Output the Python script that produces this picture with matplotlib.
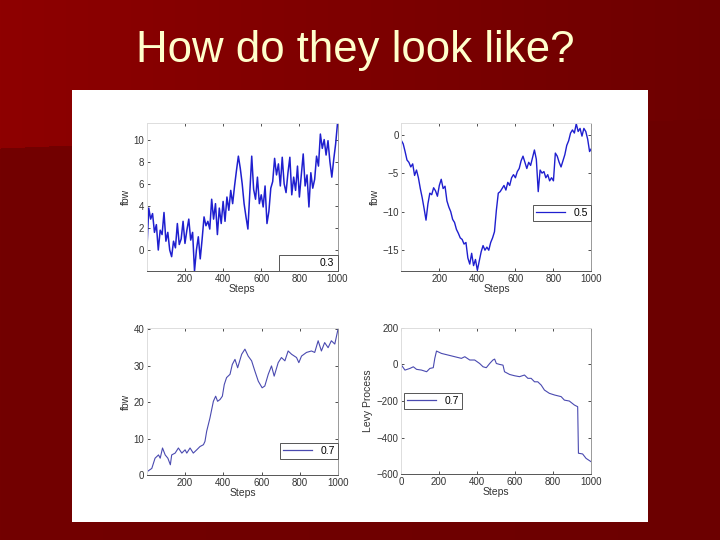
import matplotlib
matplotlib.use("Agg")
import matplotlib.pyplot as plt
import numpy as np
from matplotlib.lines import Line2D
from matplotlib.patches import Rectangle

plt.rcParams['font.family'] = ['Liberation Sans', 'DejaVu Sans']

# --- data (step, value) ---
steps_a = [1, 10, 20, 30, 40, 50, 60, 70, 80, 90, 100, 110, 120, 130, 140, 150, 160, 170, 180, 190,
           200, 210, 220, 230, 240, 250, 260, 270, 280, 290, 300, 310, 320, 330, 340, 350, 360, 370, 380, 390,
           400, 410, 420, 430, 440, 450, 460, 470, 480, 490, 500, 510, 520, 530, 540, 550, 560, 570, 580, 590,
           600, 610, 620, 630, 640, 650, 660, 670, 680, 690, 700, 710, 720, 730, 740, 750, 760, 770, 780, 790,
           800, 810, 820, 830, 840, 850, 860, 870, 880, 890, 900, 910, 920, 930, 940, 950, 960, 970, 980, 990, 1000]
fbw_a = [0.3, 3.8, 2.8, 3.3, 1.6, 2.3, 0.0, 1.8, 1.4, 3.4, 0.8, 1.6, 0.0, -0.6, 0.8, 0.2, 2.4, 0.5, 1.0, 2.6,
         0.6, 1.8, 2.8, 0.9, 1.6, -1.9, 0.0, 1.2, -0.8, 1.0, 3.0, 2.2, 2.6, 1.9, 4.6, 2.8, 4.2, 1.4, 3.8, 2.4,
         4.4, 2.6, 4.8, 3.6, 5.4, 4.2, 5.8, 7.2, 8.5, 7.4, 6.0, 4.2, 3.0, 1.9, 5.2, 8.5, 5.5, 4.6, 6.6, 4.2,
         5.0, 3.9, 5.8, 2.4, 3.5, 5.6, 6.2, 8.3, 6.8, 7.8, 5.8, 8.4, 6.0, 5.2, 7.0, 8.4, 5.0, 6.6, 5.4, 7.6,
         4.8, 6.8, 8.7, 5.8, 6.8, 3.9, 7.0, 5.6, 6.4, 8.5, 7.6, 10.5, 9.2, 10.0, 8.6, 9.9, 8.0, 6.6, 8.2, 9.6, 11.5]

steps_b = steps_a
fbw_b = [-0.8, -1.2, -2.2, -3.3, -3.6, -4.2, -3.8, -5.3, -4.6, -5.6, -7.0, -8.2, -9.6, -11.1, -9.0, -7.6, -7.8, -6.9, -7.3, -8.0,
         -6.6, -5.8, -7.0, -6.7, -8.6, -9.4, -10.0, -11.0, -11.4, -12.3, -12.8, -13.4, -13.6, -14.2, -14.0, -16.0, -16.8, -15.4, -17.0, -16.2,
         -17.6, -16.4, -15.2, -14.4, -15.0, -14.6, -15.0, -14.0, -13.4, -12.6, -9.8, -7.6, -7.4, -7.0, -6.6, -7.2, -6.2, -6.6, -5.6, -5.2,
         -5.6, -4.8, -4.4, -3.4, -2.8, -3.6, -4.4, -3.6, -4.0, -3.0, -2.0, -3.2, -7.4, -4.6, -5.0, -4.8, -5.6, -5.2, -6.0, -5.6,
         -6.0, -2.4, -2.8, -3.6, -4.2, -3.4, -2.6, -1.4, -0.8, 0.2, 0.6, 0.2, 1.4, 0.4, 0.8, -0.2, 0.8, 0.4, -0.6, -2.2, -1.8]

steps_c = [1, 26, 43, 61, 70, 82, 96, 110, 123, 130, 148, 165, 183, 200, 209, 226, 243, 261, 278, 296,
           304, 313, 330, 348, 360, 370, 383, 395, 405, 417, 435, 447, 461, 475, 496, 513, 530, 548, 565, 583,
           603, 617, 635, 652, 666, 687, 704, 722, 739, 757, 783, 795, 809, 835, 861, 878, 896, 913, 930, 948,
           965, 983, 1000]
fbw_c = [0.9, 1.8, 4.6, 5.5, 4.6, 7.4, 5.5, 4.6, 2.8, 5.5, 6.0, 7.4, 6.0, 6.9, 6.0, 7.4, 6.0, 6.9, 7.8, 8.3,
         9.2, 12.0, 15.6, 20.2, 21.6, 20.2, 20.7, 21.6, 24.8, 26.7, 27.6, 30.3, 31.7, 29.4, 33.1, 34.5, 32.6, 31.3, 28.5, 25.7,
         23.9, 24.4, 27.6, 29.9, 27.1, 30.8, 32.2, 31.3, 34.0, 33.1, 32.2, 30.8, 32.6, 33.6, 34.0, 33.6, 36.8, 34.0, 36.3, 34.9,
         36.8, 35.9, 40.0]

steps_d = [0, 21, 47, 65, 82, 108, 135, 152, 170, 178, 187, 213, 248, 283, 318, 336, 362, 388, 414, 432,
           449, 467, 484, 493, 502, 519, 537, 545, 572, 598, 624, 650, 668, 685, 703, 720, 738, 755, 781, 808,
           843, 860, 886, 913, 930, 934, 956, 974, 1000]
levy_d = [0, -31, -22, -13, -27, -31, -40, -22, -18, 33, 73, 60, 51, 42, 33, 42, 24, 24, 5, -13,
          -18, 5, 24, 29, 5, 0, -4, -40, -55, -62, -67, -58, -76, -76, -95, -95, -113, -140, -158, -167,
          -176, -195, -200, -222, -231, -485, -489, -513, -531]

labels = ["0.3", "0.5", "0.7", "0.7"]

fig = plt.figure(figsize=(7.2, 5.4), dpi=100)

# slide background (dark red gradient, darker lower-left wedge)
H, W = 540, 720
xx, yy = np.meshgrid(np.arange(W), np.arange(H))
t = xx / W
r = 0x8E * (1 - t) + 0x6D * t
low = yy > (148 - 3 * xx / 72)
r = np.where(low, 0x73 * (1 - t) + 0x6C * t, r)
bg = np.dstack([r / 255, np.zeros_like(r), np.zeros_like(r)])
axbg = fig.add_axes([0, 0, 1, 1], zorder=-2)
axbg.imshow(bg, aspect="auto", extent=[0, 1, 0, 1])
axbg.axis("off")

fig.patches.append(Rectangle((0.1, 0.0333), 0.8, 0.8, transform=fig.transFigure,
                             facecolor="white", edgecolor="none", zorder=-1))

fig.text(0.494, 0.885, "How do they look like?", color="#FFFFCC", fontsize=31.5,
         ha="center", va="baseline")

pos = [[0.2042, 0.4981, 0.2646, 0.2741],
       [0.5576, 0.4981, 0.2639, 0.2741],
       [0.2042, 0.1204, 0.2653, 0.2722],
       [0.5569, 0.1217, 0.2639, 0.2713]]
xs = [steps_a, steps_b, steps_c, steps_d]
ys = [fbw_a, fbw_b, fbw_c, levy_d]
ylabels = ["fbw", "fbw", "fbw", "Levy Process"]
yticks = [[0, 2, 4, 6, 8, 10], [-15, -10, -5, 0], [0, 10, 20, 30, 40], [-600, -400, -200, 0, 200]]
ylims = [(-1.9, 11.5), (-17.7, 1.5), (0, 40.3), (-600, 200)]
xlims = [(1, 1000), (1, 1000), (1, 1000), (0, 1000)]
xticks = [[200, 400, 600, 800, 1000]] * 3 + [[0, 200, 400, 600, 800, 1000]]
colors = ["#1f1fcf", "#1f1fcf", "#4a4ab0", "#4a4ab0"]
widths = [1.1, 1.0, 0.8, 0.8]
leg_loc = ["lower right", "lower right", "lower right", "lower left"]
leg_anchor = [(1.0, 0.0), (0.997, 0.338), (1.0, 0.109), (0.016, 0.445)]

for i in range(4):
    ax = fig.add_axes(pos[i])
    ax.plot(xs[i], ys[i], color=colors[i], lw=widths[i])
    ax.set_xlim(xlims[i])
    ax.set_ylim(ylims[i])
    ax.set_xticks(xticks[i])
    ax.set_yticks(yticks[i])
    ax.tick_params(direction="in", length=2.5, width=0.6, labelsize=7,
                   colors="#333333", top=True, right=True, pad=2)
    ax.spines["left"].set_color("#dddddd")
    ax.spines["top"].set_color("#dddddd")
    ax.spines["bottom"].set_color("#555555")
    ax.spines["right"].set_color("#999999")
    for s in ax.spines.values():
        s.set_linewidth(0.7)
    ax.set_xlabel("Steps", fontsize=7.5, color="#333333", labelpad=0)
    ax.set_ylabel(ylabels[i], fontsize=7.5, color="#333333", labelpad=2)
    if i == 0:
        h = [Line2D([], [], color="none")]
    else:
        h = [Line2D([], [], color=colors[i], lw=0.9)]
    leg = ax.legend(h, [labels[i]], loc=leg_loc[i], bbox_to_anchor=leg_anchor[i],
                    fontsize=7.5, fancybox=False, framealpha=1, edgecolor="#555555",
                    borderaxespad=0, handlelength=2.8, borderpad=0.3)
    leg.get_frame().set_linewidth(0.7)

fig.savefig("out.png", dpi=100)
